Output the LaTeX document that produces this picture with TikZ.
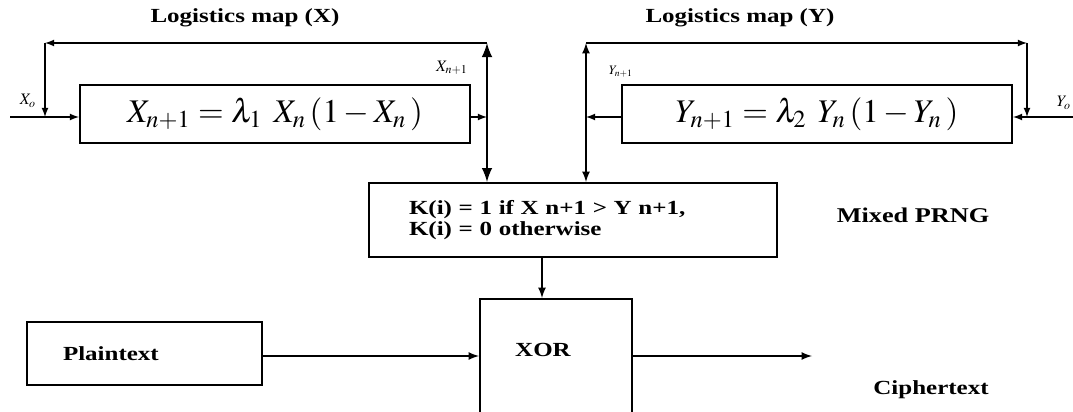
\documentclass[tikz,border=0pt]{standalone}
\usepackage{mathptmx}
\usepackage{fontspec}
\setmainfont{Liberation Serif}[FakeStretch=1.25]
\usepackage{tikz}

\begin{document}
\begin{tikzpicture}[x=0.5pt,y=-0.5pt,>=latex,semithick]
\tikzset{mapbox/.style={draw,line width=1pt,minimum width=195pt,minimum height=29pt,inner sep=0pt,font=\fontsize{16.5}{17}\selectfont},
         blk/.style={draw,line width=1pt,inner sep=0pt},
         title/.style={font=\fontsize{10}{12}\selectfont\bfseries},
         small/.style={font=\fontsize{8}{9}\selectfont}}
\useasboundingbox (0,0) rectangle (1073,412);

% logistic maps
\node[mapbox] (xmap) at (275,114) {$X_{n+1} = \lambda_1\;\, X_n\,(1-X_n\,)$};
\node[mapbox] (ymap) at (817,114) {$Y_{n+1} = \lambda_2\;\, Y_n\,(1-Y_n\,)$};
\node[title] (xtitle) at (245,18) {Logistics map (X)};
\node[title] (ytitle) at (740,18) {Logistics map (Y)};

% mixed PRNG
\node[blk,minimum width=204pt,minimum height=37pt,text width=164pt,align=left,
      font=\fontsize{10}{10.5}\selectfont\bfseries] (kbox) at (573,220)
      {K(i) = 1 if X n+1 \textgreater{} Y n+1,\\K(i) = 0 otherwise};
\node[title,font=\fontsize{10.5}{12}\selectfont\bfseries] (prng) at (913,215) {Mixed PRNG};

% XOR stage
\node[blk,minimum width=76pt,minimum height=62pt,anchor=north] (xor) at (556,298) {};
\node[title] (xorlbl) at (543,350) {XOR};
\node[blk,minimum width=117.5pt,minimum height=31.5pt,text width=81.5pt,align=left,
      font=\fontsize{10}{12}\selectfont\bfseries] (plain) at (144.5,353.5) {Plaintext};
\node[title] (cipher) at (931,390) {Ciphertext};

% labels
\node[small] (x0) at (28,101) {$X_o$};
\node[small] (xn) at (452,68) {$X_{n+1}$};
\node[small,font=\fontsize{6.5}{8}\selectfont] (yn) at (621,72) {$Y_{n+1}$};
\node[small] (y0) at (1064,103) {$Y_o$};

\coordinate (xin) at (10,117);
\coordinate (xtopL) at (45,43);
\coordinate (xtopR) at (487,43);
\coordinate (yin) at (1073,117);
\coordinate (ytopL) at (586,43);
\coordinate (ytopR) at (1027,43);
\coordinate (kout) at (542,257);
\coordinate (out) at (812,356);

% X loop
\draw[->] (xin) -- (xin -| xmap.west);
\draw[->] (xmap.east |- xin) -- (xin -| xtopR);
\draw[->] (xtopR) -- (xtopL);
\draw[->] (xtopL) -- (xtopL |- xin);
\draw[line width=1.4pt,<->] (xtopR) -- (xtopR |- kbox.north);

% Y loop
\draw[->] (yin) -- (yin -| ymap.east);
\draw[->] (ymap.west |- yin) -- (yin -| ytopL);
\draw[->] (ytopL) -- (ytopR);
\draw[->] (ytopR) -- (ytopR |- yin);
\draw[thick,<->] (ytopL) -- (ytopL |- kbox.north);

% to the output
\draw[thick,->] (kout) -- (kout |- xor.north);
\draw[thick,->] (plain.east |- out) -- (xor.west |- out);
\draw[thick,->] (xor.east |- out) -- (out);
\end{tikzpicture}
\end{document}
